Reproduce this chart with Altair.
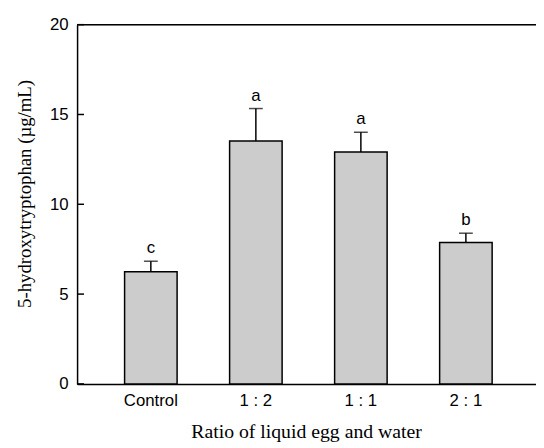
import altair as alt
import pandas as pd

categories = ["Control", "1 : 2", "1 : 1", "2 : 1"]
means = [6.25, 13.52, 12.91, 7.87]
errors = [0.58, 1.81, 1.10, 0.52]
letters = ["c", "a", "a", "b"]
y_ticks = [0, 5, 10, 15, 20]
top_line = [20]

df = pd.DataFrame({"cat": categories, "mean": means, "err": errors, "letter": letters})
df["upper"] = df["mean"] + df["err"]
ticks_df = pd.DataFrame({"t": y_ticks})
top_df = pd.DataFrame({"v": top_line})

SANS = "Liberation Sans"
SERIF = "Liberation Serif"

xscale = alt.Scale(domain=categories, paddingInner=0.5, paddingOuter=0.435, align=0.52)
yscale = alt.Scale(domain=[0, 20], nice=False)

x_axis = alt.Axis(
    title="Ratio of liquid egg and water", labelAngle=0, ticks=False, grid=False,
    domainColor="black", domainWidth=1.5, labelFont=SANS, labelFontSize=17,
    labelColor="black", labelPadding=9, titleFont=SERIF, titleFontSize=20,
    titleFontWeight="normal", titleColor="black", titleBaseline="alphabetic",
    titleY=54, titleX=232,
)
y_axis = alt.Axis(
    title="5-hydroxytryptophan (µg/mL)", values=y_ticks, ticks=False, grid=False,
    domainColor="black", domainWidth=1.5, labelFont=SANS, labelFontSize=17,
    labelColor="black", labelPadding=9, titleFont=SERIF, titleFontSize=19,
    titleFontWeight="normal", titleColor="black", titleAlign="center",
    titleBaseline="middle", titleX=-53, titleY=171,
)

x = alt.X("cat:N", scale=xscale, sort=categories, axis=x_axis)


def Y(field):
    return alt.Y(field, scale=yscale, axis=y_axis)


bars = alt.Chart(df).mark_bar(color="#cccccc", stroke="black", strokeWidth=1.5).encode(
    x=x, y=Y("mean:Q")
)
err = alt.Chart(df).mark_rule(color="black", strokeWidth=1.5).encode(
    x=x, y=Y("mean:Q"), y2="upper:Q"
)
cap = alt.Chart(df).mark_tick(color="black", size=14, thickness=1.5).encode(
    x=x, y=Y("upper:Q")
)
txt = alt.Chart(df).mark_text(font=SANS, fontSize=17, color="black", baseline="middle", dy=-13).encode(
    x=x, y=Y("upper:Q"), text="letter:N"
)
yt = alt.Chart(ticks_df).mark_rule(color="black", strokeWidth=1.5).encode(
    y=Y("t:Q"), x=alt.value(0), x2=alt.value(7)
)
top = alt.Chart(top_df).mark_rule(color="black", strokeWidth=1.5).encode(
    y=Y("v:Q"), x=alt.value(0), x2=alt.value("width")
)

chart = alt.layer(bars, err, cap, txt, yt, top).properties(
    width=465, height=364,
    padding={"left": 70, "top": 14, "right": 0, "bottom": 58},
    autosize=alt.AutoSizeParams(type="none"),
).configure_view(strokeWidth=0).configure(background="white")

chart.save("out.html", embed_options={"renderer": "svg", "actions": False})
